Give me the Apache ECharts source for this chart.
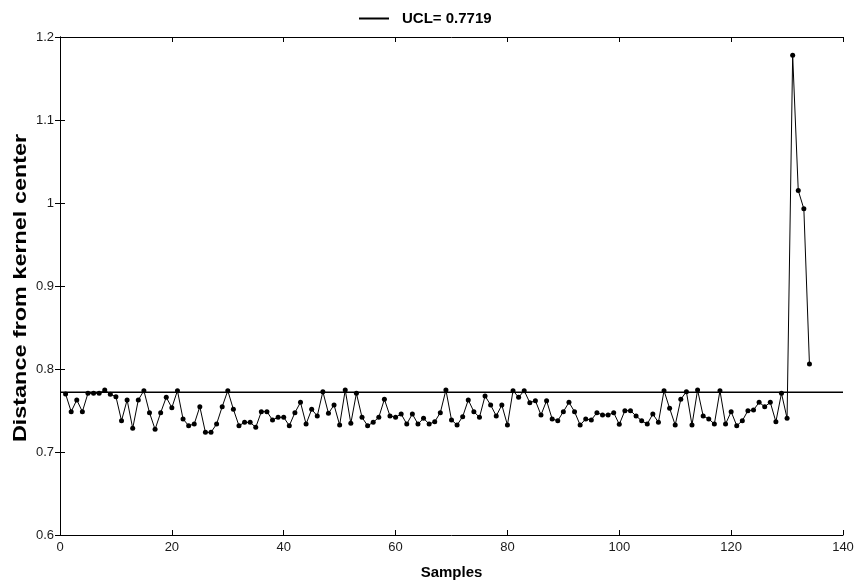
<!DOCTYPE html>
<html>
<head>
<meta charset="utf-8">
<script src="https://cdn.jsdelivr.net/npm/echarts@6/dist/echarts.min.js"></script>
<style>html,body{margin:0;padding:0;background:#fff;}#c{width:859px;height:585px;}</style>
</head>
<body>
<div id="c"></div>
<script>
const ucl = 0.7719;
const uclLabel = 'UCL= 0.7719';
const xAxisTitle = 'Samples';
const yAxisTitle = 'Distance from kernel center';
const xTicks = [0, 20, 40, 60, 80, 100, 120, 140];
const yTicks = [0.6, 0.7, 0.8, 0.9, 1.0, 1.1, 1.2];
const distances = [
  0.7699, 0.7486, 0.7627, 0.7486, 0.7707, 0.7707, 0.7707, 0.7747, 0.7695, 0.7667,
  0.7377, 0.7627, 0.7285, 0.7627, 0.7739, 0.7474, 0.7273, 0.7474, 0.7659, 0.7534,
  0.7739, 0.7398, 0.7317, 0.7337, 0.7546, 0.7237, 0.7237, 0.7337, 0.7546, 0.7739,
  0.7514, 0.7317, 0.7357, 0.7357, 0.7297, 0.7486, 0.7486, 0.7386, 0.7418, 0.7418,
  0.7317, 0.7474, 0.7598, 0.7337, 0.7514, 0.7434, 0.7727, 0.7466, 0.7566, 0.7325,
  0.7747, 0.7345, 0.7707, 0.7418, 0.7317, 0.7357, 0.7418, 0.7635, 0.7434, 0.7418,
  0.7458, 0.7337, 0.7458, 0.7337, 0.7406, 0.7337, 0.7365, 0.7474, 0.7747, 0.7386,
  0.7325, 0.7426, 0.7627, 0.7486, 0.7418, 0.7675, 0.7566, 0.7434, 0.7566, 0.7325,
  0.7739, 0.7659, 0.7739, 0.7594, 0.7618, 0.7446, 0.7618, 0.7398, 0.7377, 0.7486,
  0.7598, 0.7486, 0.7325, 0.7398, 0.7386, 0.7474, 0.7446, 0.7446, 0.7474, 0.7333,
  0.7498, 0.7498, 0.7434, 0.7377, 0.7337, 0.7458, 0.7357, 0.7739, 0.7526, 0.7325,
  0.7635, 0.7727, 0.7325, 0.7747, 0.7434, 0.7398, 0.7337, 0.7739, 0.7337, 0.7486,
  0.7317, 0.7377, 0.7498, 0.7506, 0.7598, 0.7546, 0.7598, 0.7365, 0.7707, 0.7406,
  1.1780, 1.0150, 0.9930, 0.8060
];
const xRange = [xTicks[0], xTicks[xTicks.length - 1]];
const yRange = [yTicks[0], yTicks[yTicks.length - 1]];

const chart = echarts.init(document.getElementById('c'), null, {renderer: 'canvas'});
const FONT = 'Liberation Sans, Arial, sans-serif';
const axisLine = {show: true, lineStyle: {color: '#000', width: 1}};
const tickIn = {show: true, inside: true, length: 5, lineStyle: {color: '#000', width: 1}};
const lblFont = {color: '#1a1a1a', fontFamily: FONT, fontSize: 13};
chart.setOption({
  animation: false,
  backgroundColor: '#fff',
  grid: {left: 60, right: 16, top: 37, bottom: 50, containLabel: false},
  legend: {
    top: 6, left: 354,
    data: [{name: uclLabel}],
    icon: 'rect', itemWidth: 30, itemHeight: 2, itemGap: 10,
    textStyle: {color: '#000', fontFamily: FONT, fontSize: 15, fontWeight: 'bold', padding: [0, 0, 0, 8]}
  },
  graphic: [{
    type: 'text', x: 21, y: 288, rotation: Math.PI / 2, scaleX: 1.3, scaleY: 1,
    style: {text: yAxisTitle, fill: '#000', font: 'bold 18px ' + FONT, align: 'center', verticalAlign: 'middle'}
  }],
  xAxis: [
    {type: 'value', min: xRange[0], max: xRange[1], interval: 20, position: 'bottom',
     name: xAxisTitle, nameLocation: 'middle', nameGap: 30,
     nameTextStyle: {color: '#000', fontFamily: FONT, fontSize: 15, fontWeight: 'bold'},
     axisLine: axisLine, axisTick: tickIn, splitLine: {show: false},
     axisLabel: Object.assign({margin: 6}, lblFont)},
    {type: 'value', min: xRange[0], max: xRange[1], interval: 20, position: 'top',
     axisLine: axisLine, axisTick: tickIn, splitLine: {show: false}, axisLabel: {show: false}}
  ],
  yAxis: [
    {type: 'value', min: yRange[0], max: yRange[1], interval: 0.1, position: 'left',
     axisLine: axisLine, axisTick: tickIn, splitLine: {show: false},
     axisLabel: Object.assign({margin: 6, formatter: v => String(Math.round(v * 10) / 10)}, lblFont)},
    {type: 'value', min: yRange[0], max: yRange[1], interval: 0.1, position: 'right',
     axisLine: axisLine, axisTick: tickIn, splitLine: {show: false}, axisLabel: {show: false}}
  ],
  series: [
    {
      name: uclLabel, type: 'line', xAxisIndex: 0, yAxisIndex: 0,
      data: [[xRange[0], ucl], [xRange[1], ucl]],
      symbol: 'none', lineStyle: {color: '#000', width: 1.5}, itemStyle: {color: '#000'}, z: 3
    },
    {
      name: 'distance', type: 'line', xAxisIndex: 0, yAxisIndex: 0,
      data: distances.map((v, i) => [i + 1, v]),
      symbol: 'circle', symbolSize: 5, showSymbol: true,
      lineStyle: {color: '#000', width: 1}, itemStyle: {color: '#000'}, z: 4
    }
  ]
});
</script>
</body>
</html>
